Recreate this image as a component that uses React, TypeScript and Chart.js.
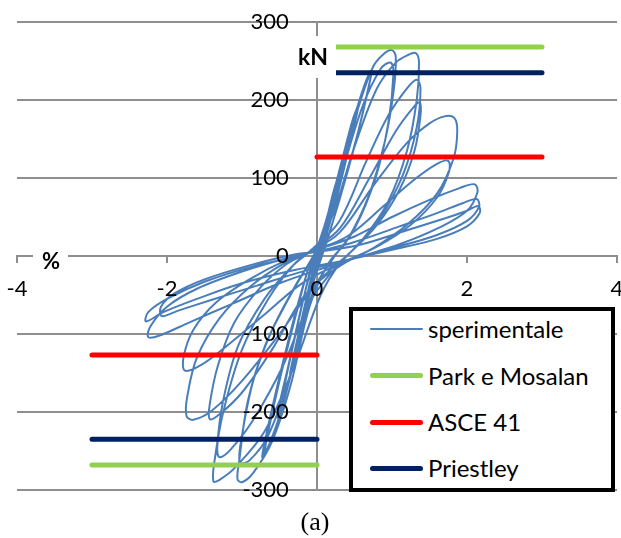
import React, { useEffect, useRef } from "react";
import { Chart, registerables } from "chart.js";

Chart.register(...registerables);

// ---------- data ----------
const seriesNames = ["sperimentale", "Park e Mosalan", "ASCE 41", "Priestley"];
const seriesColors = ["#4A7EBB", "#92D050", "#FF0000", "#002060"];
const seriesWidths = [2, 5, 5, 5];

// strength thresholds (kN): Park e Mosalan, ASCE 41, Priestley
const thresholdKN = [268, 127, 235];
const thresholdDriftPos = [0, 3];
const thresholdDriftNeg = [-3, 0];

const xTicks = { min: -4, max: 4, step: 2 };
const yTicks = { min: -300, max: 300, step: 100 };
const axisUnits = ["kN", "%"];
const caption = "(a)";

// experimental hysteresis: [drift %, force kN], cycle by cycle
const cycle0: number[][] = [[0, 0]];
const cycle1 = [[0.06, 22], [0.12, 45], [0.08, 28], [0.0, 3], [-0.05, -22], [-0.1, -45], [-0.06, -28], [0.0, -4]];
const cycle2 = [[0.1, 35], [0.2, 75], [0.25, 92], [0.18, 62], [0.05, 10], [-0.08, -35], [-0.16, -75], [-0.2, -95], [-0.14, -62], [-0.03, -12]];
const cycle3 = [[0.12, 42], [0.28, 100], [0.38, 138], [0.41, 146], [0.33, 110], [0.18, 50], [0.05, 0], [-0.12, -55], [-0.26, -115], [-0.34, -148], [-0.36, -151], [-0.27, -110], [-0.12, -45], [-0.02, -5]];
const cycle4 = [[0.15, 52], [0.35, 125], [0.5, 180], [0.56, 196], [0.5, 170], [0.33, 100], [0.12, 25], [-0.05, -25], [-0.22, -95], [-0.4, -170], [-0.5, -204], [-0.51, -205], [-0.42, -160], [-0.25, -85], [-0.08, -15]];
const cycle4b = [[0.12, 45], [0.32, 118], [0.48, 176], [0.55, 192], [0.49, 165], [0.3, 92], [0.1, 20], [-0.07, -32], [-0.25, -108], [-0.42, -178], [-0.52, -208], [-0.5, -190], [-0.38, -140], [-0.2, -62], [-0.05, -8]];
const cycle5 = [[0.1, 30], [0.3, 108], [0.52, 185], [0.66, 226], [0.73, 238], [0.7, 222], [0.55, 160], [0.32, 80], [0.12, 15], [-0.08, -40], [-0.3, -130], [-0.5, -205], [-0.65, -245], [-0.7, -255], [-0.66, -230], [-0.5, -160], [-0.28, -75], [-0.1, -12]];
const cycle5b = [[0.08, 25], [0.28, 100], [0.5, 178], [0.64, 220], [0.72, 235], [0.68, 212], [0.52, 148], [0.3, 72], [0.1, 10], [-0.1, -50], [-0.33, -145], [-0.55, -222], [-0.68, -250], [-0.73, -258], [-0.7, -240], [-0.55, -175], [-0.32, -85], [-0.12, -18]];
const cycle6 = [[0.05, 20], [0.3, 105], [0.55, 190], [0.75, 243], [0.9, 260], [1.0, 264], [1.05, 255], [1.02, 210], [0.9, 145], [0.68, 75], [0.4, 20], [0.15, -10], [-0.1, -65], [-0.35, -165], [-0.6, -238], [-0.85, -278], [-1.0, -290], [-1.06, -286], [-1.04, -265], [-0.92, -185], [-0.68, -112], [-0.38, -55], [-0.12, -12], [0.05, 10]];
const cycle7 = [[0.3, 95], [0.6, 190], [0.85, 240], [0.98, 248], [1.02, 235], [0.95, 170], [0.78, 100], [0.5, 35], [0.2, -5], [-0.05, -45], [-0.35, -150], [-0.65, -230], [-0.9, -262], [-1.03, -265], [-1.0, -230], [-0.85, -160], [-0.6, -95], [-0.3, -40], [-0.05, 0]];
const cycle8 = [[0.2, 50], [0.5, 140], [0.8, 215], [1.05, 248], [1.22, 258], [1.32, 260], [1.36, 248], [1.33, 200], [1.2, 135], [0.95, 70], [0.6, 20], [0.3, -10], [0.05, -50], [-0.3, -140], [-0.7, -225], [-1.1, -272], [-1.3, -287], [-1.38, -289], [-1.37, -265], [-1.25, -200], [-1.0, -120], [-0.65, -55], [-0.3, -10], [-0.05, 10]];
const cycle9 = [[0.3, 45], [0.65, 120], [0.95, 180], [1.2, 215], [1.33, 226], [1.38, 215], [1.33, 165], [1.15, 105], [0.85, 50], [0.5, 10], [0.2, -20], [-0.1, -60], [-0.45, -140], [-0.85, -210], [-1.15, -248], [-1.3, -258], [-1.33, -245], [-1.25, -185], [-1.05, -115], [-0.7, -55], [-0.35, -15], [-0.1, 5]];
const cycle10 = [[0.3, 35], [0.7, 100], [1.05, 160], [1.28, 190], [1.37, 197], [1.38, 180], [1.3, 135], [1.1, 85], [0.8, 40], [0.45, 5], [0.15, -20], [-0.2, -55], [-0.6, -120], [-1.0, -175], [-1.3, -203], [-1.43, -209], [-1.43, -190], [-1.32, -140], [-1.1, -85], [-0.75, -40], [-0.4, -10], [-0.1, 5]];
const cycle11 = [[0.3, 30], [0.75, 90], [1.2, 145], [1.5, 170], [1.7, 179], [1.83, 177], [1.87, 160], [1.82, 125], [1.6, 80], [1.2, 40], [0.75, 10], [0.35, -10], [0.0, -35], [-0.5, -100], [-1.0, -160], [-1.4, -198], [-1.65, -210], [-1.74, -205], [-1.73, -180], [-1.6, -130], [-1.3, -80], [-0.9, -40], [-0.45, -10], [-0.1, 5]];
const cycle12 = [[0.4, 25], [0.9, 65], [1.3, 98], [1.6, 118], [1.75, 122], [1.76, 108], [1.6, 75], [1.25, 40], [0.8, 12], [0.3, -10], [-0.2, -35], [-0.7, -75], [-1.2, -115], [-1.55, -140], [-1.76, -147], [-1.78, -130], [-1.65, -95], [-1.35, -60], [-0.9, -30], [-0.4, -5], [0.0, 8]];
const cycle13 = [[0.5, 25], [1.0, 50], [1.5, 72], [1.9, 87], [2.1, 92], [2.14, 82], [2.0, 58], [1.6, 35], [1.1, 15], [0.6, 0], [0.1, -15], [-0.5, -35], [-1.1, -60], [-1.7, -85], [-2.1, -102], [-2.25, -104], [-2.22, -90], [-2.0, -65], [-1.6, -42], [-1.0, -20], [-0.4, -3], [0.1, 8]];
const cycle14 = [[0.5, 18], [1.1, 38], [1.6, 55], [1.95, 68], [2.13, 73], [2.16, 63], [2.0, 45], [1.6, 27], [1.0, 10], [0.4, -5], [-0.2, -20], [-0.8, -38], [-1.4, -56], [-1.85, -70], [-2.07, -77], [-2.08, -65], [-1.9, -48], [-1.5, -30], [-0.9, -12], [-0.3, 2], [0.2, 8]];
const cycle15 = [[0.6, 15], [1.2, 33], [1.7, 48], [2.0, 58], [2.15, 64], [2.17, 55], [2.0, 38], [1.6, 22], [1.0, 8], [0.4, -5], [-0.3, -18], [-1.0, -35], [-1.6, -55], [-2.05, -72], [-2.28, -84], [-2.25, -72], [-2.0, -55], [-1.5, -33], [-0.8, -12], [-0.2, 0]];

const cycles = [cycle0, cycle1, cycle2, cycle3, cycle4, cycle4b, cycle5, cycle5b, cycle6, cycle7, cycle8, cycle9, cycle10, cycle11, cycle12, cycle13, cycle14, cycle15];

// ---------- styles ----------
const GRID_COLOR = "#8E8E8E";
const FONT = "Lato";
const Y_LABEL_PAD = "     ";

const unitPlugin = {
  id: "axisUnits",
  afterDraw(chart: any) {
    const ctx = chart.ctx as CanvasRenderingContext2D;
    ctx.save();
    const boxes = [
      { text: axisUnits[0], rect: [293, 36, 43, 42], cx: 313, cy: 58, size: 23 },
      { text: axisUnits[1], rect: [33, 246, 35, 32], cx: 51, cy: 262, size: 22 },
    ];
    for (const b of boxes) {
      ctx.fillStyle = "#FFFFFF";
      ctx.fillRect(b.rect[0], b.rect[1], b.rect[2], b.rect[3]);
      ctx.fillStyle = "#000000";
      ctx.font = `bold ${b.size}px ${FONT}`;
      ctx.textAlign = "center";
      ctx.textBaseline = "middle";
      ctx.fillText(b.text, b.cx, b.cy);
    }
    ctx.restore();
  },
};

export default function App() {
  const ref = useRef<HTMLCanvasElement>(null);

  useEffect(() => {
    const canvas = ref.current;
    if (!canvas) return;
    const expPoints = cycles.flat().map(([x, y]) => ({ x, y }));
    const thresholdSets = thresholdKN.map((v, i) => ({
      label: seriesNames[i + 1],
      data: [
        { x: thresholdDriftPos[0], y: v },
        { x: thresholdDriftPos[1], y: v },
        { x: thresholdDriftPos[1], y: null },
        { x: thresholdDriftNeg[0], y: -v },
        { x: thresholdDriftNeg[1], y: -v },
      ],
      showLine: true,
      borderColor: seriesColors[i + 1],
      backgroundColor: seriesColors[i + 1],
      borderWidth: seriesWidths[i + 1],
      borderCapStyle: "round" as const,
      pointRadius: 0,
      spanGaps: false,
      order: 1 + i,
    }));
    const chart = new Chart(canvas, {
      type: "scatter",
      data: {
        datasets: [
          {
            label: seriesNames[0],
            data: expPoints,
            showLine: true,
            borderColor: seriesColors[0],
            backgroundColor: seriesColors[0],
            borderWidth: seriesWidths[0],
            pointRadius: 0,
            tension: 0.35,
            order: 10,
          } as any,
          ...thresholdSets,
        ],
      },
      options: {
        responsive: false,
        animation: false,
        devicePixelRatio: 1,
        layout: { padding: { left: 17, top: 22, right: 4, bottom: 48 } },
        plugins: { legend: { display: false }, tooltip: { enabled: false }, title: { display: false } },
        scales: {
          x: {
            type: "linear",
            position: { y: 0 } as any,
            min: xTicks.min,
            max: xTicks.max,
            ticks: {
              stepSize: xTicks.step,
              autoSkip: false,
              maxRotation: 0,
              color: "#000",
              font: { family: FONT, size: 22 },
              padding: 14,
              z: 1,
            },
            grid: { drawOnChartArea: false, drawTicks: true, tickLength: 6, color: GRID_COLOR, lineWidth: 2 },
            border: { display: true, color: GRID_COLOR, width: 2 },
            afterFit: (s: any) => {
              s.paddingLeft = 0;
              s.paddingRight = 0;
            },
          },
          y: {
            type: "linear",
            position: { x: 0 } as any,
            min: yTicks.min,
            max: yTicks.max,
            ticks: {
              stepSize: yTicks.step,
              autoSkip: false,
              color: "#000",
              font: { family: FONT, size: 22 },
              callback: (v: any) => `${v}${Y_LABEL_PAD}`,
              z: 1,
            },
            grid: { color: GRID_COLOR, lineWidth: 2, drawTicks: true, tickLength: 8 },
            border: { display: true, color: GRID_COLOR, width: 2 },
            afterFit: (s: any) => {
              s.paddingTop = 0;
              s.paddingBottom = 0;
            },
          },
        },
      } as any,
      plugins: [unitPlugin],
    });
    return () => chart.destroy();
  }, []);

  const rowCenters = [18, 64.5, 111, 157];

  return (
    <div style={{ position: "absolute", left: 0, top: 0, width: 621, height: 538, background: "#fff" }}>
      <canvas ref={ref} width={621} height={538} style={{ position: "absolute", left: 0, top: 0, width: 621, height: 538 }} />
      <div
        style={{
          position: "absolute",
          left: 349,
          top: 307,
          width: 266,
          height: 185,
          boxSizing: "border-box",
          border: "4px solid #000",
          background: "#fff",
        }}
      >
        {seriesNames.map((name, i) => (
          <div
            key={name}
            style={{
              position: "absolute",
              left: 0,
              top: rowCenters[i] - 15,
              height: 30,
              display: "flex",
              alignItems: "center",
              whiteSpace: "nowrap",
            }}
          >
            <span
              style={{
                display: "inline-block",
                marginLeft: 17,
                width: 53,
                height: seriesWidths[i],
                borderRadius: seriesWidths[i] / 2,
                background: seriesColors[i],
              }}
            />
            <span style={{ marginLeft: 5, fontFamily: FONT, fontSize: 24, lineHeight: "30px", color: "#000" }}>{name}</span>
          </div>
        ))}
      </div>
      <div
        style={{
          position: "absolute",
          left: 0,
          width: 630,
          top: 507,
          textAlign: "center",
          fontFamily: "'Liberation Serif', 'Times New Roman', serif",
          fontSize: 26,
          lineHeight: "30px",
          color: "#000",
        }}
      >
        {caption}
      </div>
    </div>
  );
}
